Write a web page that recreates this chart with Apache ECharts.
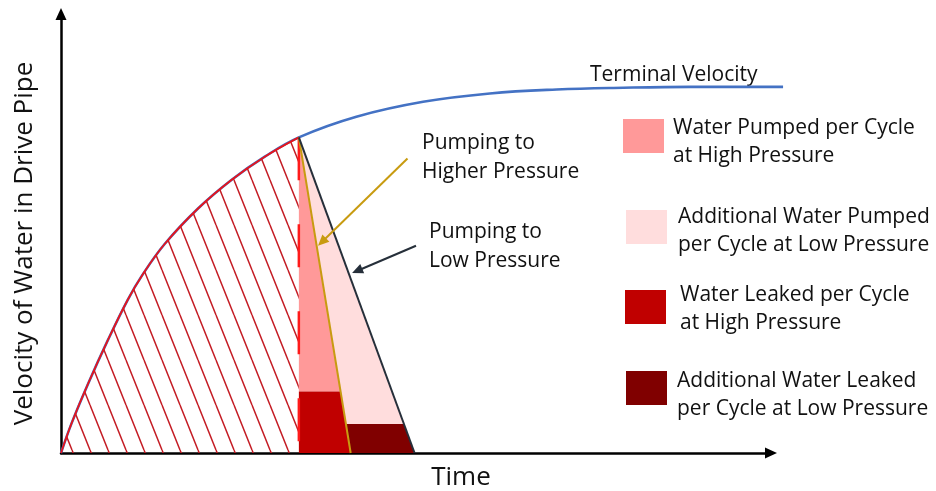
<!DOCTYPE html>
<html>
<head>
<meta charset="utf-8">
<script src="https://cdn.jsdelivr.net/npm/echarts@6/dist/echarts.min.js"></script>
<style>html,body{margin:0;padding:0;background:#fff}#c{width:936px;height:491px}</style>
</head>
<body>
<div id="c"></div>
<script>
// ---- data (time and velocity in arbitrary units, 0-100) ----
const curveTime     = [0, 1.5, 3.85, 6.6, 9.4, 11.4, 14.6, 19.3, 24.0, 28.7, 33.5, 41.6, 51.0, 60.4, 69.8, 79.2, 88.6, 101.7];
const curveVelocity = [0, 6.8, 15.9, 25.7, 34.9, 40.4, 47.6, 55.7, 62.2, 67.5, 71.9, 76.6, 80.0, 81.9, 82.8, 83.2, 83.4, 83.4];
const valveCloseTime = 33.5;   // end of acceleration (peak)
const peakVelocity   = 71.9;
const pumpEndHigh    = 40.8;   // time velocity reaches 0 pumping to higher pressure
const pumpEndLow     = 49.8;   // time velocity reaches 0 pumping to low pressure
const leakHigh       = 14.0;   // leak band height, high pressure
const leakLow        = 6.6;    // leak band height, low pressure
const goldArrowPts   = [[48.8, 67.1], [36.2, 47.2]];
const blackArrowPts  = [[50.0, 47.2], [41.0, 41.0]];
const regionNames = [
  'Water Pumped per Cycle\nat High Pressure',
  'Additional Water Pumped\nper Cycle at Low Pressure',
  'Water Leaked per Cycle\nat High Pressure',
  'Additional Water Leaked\nper Cycle at Low Pressure'
];
const annotationTexts = ['Terminal Velocity', 'Pumping to\nHigher Pressure', 'Pumping to\nLow Pressure'];
const axisTitles = ['Time', 'Velocity of Water in Drive Pipe'];

// ---- derived geometry ----
const peakIdx = curveTime.indexOf(valveCloseTime);
const curveData = curveTime.map((t, i) => [t, curveVelocity[i]]);
const accelData = curveData.slice(0, peakIdx + 1);
const peak = [valveCloseTime, peakVelocity];
function xOnLine(endT, v) { return valveCloseTime + (endT - valveCloseTime) * (peakVelocity - v) / peakVelocity; }
const regionVerts = [
  [peak, [valveCloseTime, leakHigh], [xOnLine(pumpEndHigh, leakHigh), leakHigh]],
  [peak, [xOnLine(pumpEndHigh, leakLow), leakLow], [xOnLine(pumpEndLow, leakLow), leakLow]],
  [[valveCloseTime, 0], [pumpEndHigh, 0], [xOnLine(pumpEndHigh, leakHigh), leakHigh], [valveCloseTime, leakHigh]],
  [[pumpEndHigh, 0], [pumpEndLow, 0], [xOnLine(pumpEndLow, leakLow), leakLow], [xOnLine(pumpEndHigh, leakLow), leakLow]]
];

const FONT = "'Open Sans', 'DejaVu Sans', sans-serif";
const TXT = '#111111';
const X_MAX = 100, X_MAX_WIDE = 104;   // wide hidden axis lets the curve run past the arrow
const GRID_L = 61, GRID_R = 165, GRID_W = 936 - GRID_L - GRID_R;

function hatchPattern() {
  const c = document.createElement('canvas');
  c.width = 18; c.height = 45;
  const g = c.getContext('2d');
  g.strokeStyle = '#c41c24';
  g.lineWidth = 1.5;
  [-18, 0, 18].forEach(o => { g.beginPath(); g.moveTo(o, 0); g.lineTo(o + 18, 45); g.stroke(); });
  return c;
}

function regionSeries(idx, color) {
  const verts = regionVerts[idx];
  return {
    type: 'custom', name: regionNames[idx], coordinateSystem: 'cartesian2d', silent: true, z: 4,
    itemStyle: { color: color }, data: verts,
    renderItem: function (params, api) {
      if (params.dataIndex !== 0) return;
      return { type: 'polygon', shape: { points: verts.map(v => api.coord(v)) }, style: { fill: color } };
    }
  };
}

function arrowSeries(pts, color) {
  return {
    type: 'custom', coordinateSystem: 'cartesian2d', silent: true, z: 8, data: pts,
    renderItem: function (params, api) {
      if (params.dataIndex !== 0) return;
      const a = api.coord(pts[0]), b = api.coord(pts[1]);
      const ang = Math.atan2(b[1] - a[1], b[0] - a[0]);
      const L = 11, W = 5;
      const base = [b[0] - L * Math.cos(ang), b[1] - L * Math.sin(ang)];
      const p1 = [base[0] + W * Math.sin(ang), base[1] - W * Math.cos(ang)];
      const p2 = [base[0] - W * Math.sin(ang), base[1] + W * Math.cos(ang)];
      return { type: 'group', children: [
        { type: 'line', shape: { x1: a[0], y1: a[1], x2: base[0] + 2 * Math.cos(ang), y2: base[1] + 2 * Math.sin(ang) }, style: { stroke: color, lineWidth: 2 } },
        { type: 'polygon', shape: { points: [b, p1, p2] }, style: { fill: color } }
      ] };
    }
  };
}

function legendItem(idx, left, top, shift, padLeft) {
  return {
    data: [regionNames[idx]], left: left, top: top, padding: 0, orient: 'vertical',
    icon: 'rect', itemWidth: 41, itemHeight: 34, selectedMode: false,
    formatter: function (name) { return '{s| }\n' + name; },
    textStyle: { fontFamily: FONT, fontSize: 21, lineHeight: 28, color: TXT, padding: [0, 0, 0, padLeft],
      rich: { s: { fontSize: 2, lineHeight: shift } } }
  };
}

const axisCommon = {
  type: 'value', min: 0,
  axisTick: { show: false }, axisLabel: { show: false }, splitLine: { show: false }
};

const chart = echarts.init(document.getElementById('c'), null, { renderer: 'canvas' });
chart.setOption({
  animation: false,
  backgroundColor: '#ffffff',
  grid: [
    { left: GRID_L, right: GRID_R, top: 14, bottom: 38, outerBoundsMode: 'none', containLabel: false },
    { left: GRID_L, width: GRID_W * X_MAX_WIDE / X_MAX, top: 14, bottom: 38, outerBoundsMode: 'none', containLabel: false }
  ],
  xAxis: [
    Object.assign({}, axisCommon, {
      gridIndex: 0, max: X_MAX,
      name: axisTitles[0], nameLocation: 'middle', nameGap: 11,
      nameTextStyle: { fontFamily: FONT, fontSize: 26, lineHeight: 28, color: TXT, padding: [0, 0, 0, 90] },
      axisLine: { show: true, onZero: false, symbol: ['none', 'triangle'], symbolSize: [11, 12], lineStyle: { color: '#000', width: 2.5 } }
    }),
    Object.assign({}, axisCommon, { gridIndex: 1, max: X_MAX_WIDE, show: false })
  ],
  yAxis: [
    Object.assign({}, axisCommon, {
      gridIndex: 0, max: 100,
      name: axisTitles[1], nameLocation: 'middle', nameGap: 22,
      nameTextStyle: { fontFamily: FONT, fontSize: 26, lineHeight: 28, color: TXT, padding: [0, 20, 0, 0] },
      axisLine: { show: true, onZero: false, symbol: ['none', 'triangle'], symbolSize: [11, 12], lineStyle: { color: '#000', width: 2.5 } }
    }),
    Object.assign({}, axisCommon, { gridIndex: 1, max: 100, show: false })
  ],
  legend: [
    legendItem(0, 623, 101.5, 13, 4),
    legendItem(1, 626, 194.5, 9, 6),
    legendItem(2, 625, 277, 4, 9),
    legendItem(3, 626, 353, 14, 5)
  ],
  graphic: [
    { type: 'text', left: 590, top: 61, style: { text: annotationTexts[0], font: '21px ' + FONT, lineHeight: 28, fill: TXT } },
    { type: 'text', left: 422, top: 129, style: { text: annotationTexts[1], font: '21px ' + FONT, lineHeight: 28.5, fill: TXT } },
    { type: 'text', left: 429, top: 218, style: { text: annotationTexts[2], font: '21px ' + FONT, lineHeight: 28.5, fill: TXT } }
  ],
  series: [
    { type: 'line', xAxisIndex: 1, yAxisIndex: 1, data: curveData, smooth: 0.4, symbol: 'none', silent: true, z: 2,
      lineStyle: { color: '#4472C4', width: 2.6 } },
    { type: 'line', data: accelData, smooth: 0.4, symbol: 'none', silent: true, z: 3,
      lineStyle: { color: '#e8141b', width: 1.8 },
      areaStyle: { color: { image: hatchPattern(), repeat: 'repeat' }, opacity: 1, origin: 'start' } },
    regionSeries(0, '#FF9999'),
    regionSeries(1, '#FFDDDD'),
    regionSeries(2, '#C00000'),
    regionSeries(3, '#800000'),
    { type: 'line', data: [peak, [valveCloseTime, 0]], symbol: 'none', silent: true, z: 5,
      lineStyle: { color: '#ff1a1a', width: 2.5, type: [43, 44] } },
    { type: 'line', data: [peak, [pumpEndHigh, 0]], symbol: 'none', silent: true, z: 6,
      lineStyle: { color: '#C89B10', width: 2 } },
    { type: 'line', data: [peak, [pumpEndLow, 0]], symbol: 'none', silent: true, z: 6,
      lineStyle: { color: '#262F3A', width: 2 } },
    arrowSeries(goldArrowPts, '#C89B10'),
    arrowSeries(blackArrowPts, '#262F3A')
  ]
});
</script>
</body>
</html>
